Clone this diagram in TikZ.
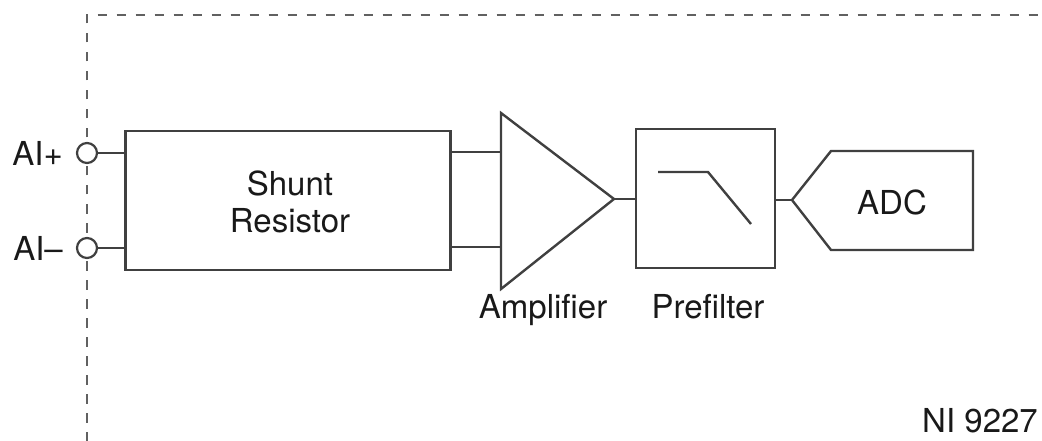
\documentclass[tikz,border=0pt]{standalone}
\usepackage{fontspec}
\setmainfont{TeX Gyre Heros}
\begin{document}
\begin{tikzpicture}[x=1pt,y=-1pt,
  line/.style={draw=black!75,line width=2.4pt},
  frame/.style={draw=black!62,line width=2pt,dash pattern=on 9.5pt off 9.5pt},
  lbl/.style={text=black!90,font=\fontsize{33}{38}\selectfont,inner sep=0pt},
  term/.style={circle,draw=black!75,line width=2.2pt,fill=white,minimum size=20pt,inner sep=0pt}]
\useasboundingbox (0,0) rectangle (1042,441);
% dashed enclosure
\coordinate (fb) at (87,441.5);
\coordinate (ft) at (87,15);
\coordinate (fr) at (1042,15);
\coordinate (fbr) at (1042,441.5);
\draw[frame] (fb) -- (ft) -- (fr);
\draw[frame,draw=black!40] (fb) -- (fbr);
% shunt resistor
\node[line,rectangle,minimum width=325pt,minimum height=139pt,inner sep=0pt] (shunt) at (288,200.5) {};
\node[lbl,align=center] (shunttxt) at (290,202) {Shunt\\[-1pt]Resistor};
% terminals
\node[term] (tp) at (87,153) {};
\node[term] (tm) at (87,248) {};
\node[lbl,anchor=east] (lp) at (63,153) {AI+};
\node[lbl,anchor=east] (lm) at (63,248) {AI–};
\coordinate (sp) at (125.5,153);
\coordinate (sm) at (125.5,248);
\draw[line] (tp) -- (sp);
\draw[line] (tm) -- (sm);
% amplifier
\coordinate (ampT) at (501,113);
\coordinate (ampB) at (501,289);
\coordinate (ampO) at (614,199);
\coordinate (ap) at (501,152);
\coordinate (am) at (501,247);
\coordinate (so1) at (450.5,152);
\coordinate (so2) at (450.5,247);
\draw[line,line join=miter] (ampT) -- (ampO) -- (ampB) -- cycle;
\draw[line] (so1) -- (ap);
\draw[line] (so2) -- (am);
\node[lbl,anchor=base] (amptxt) at (543,318) {Amplifier};
% prefilter
\node[line,rectangle,minimum width=139pt,minimum height=139pt,inner sep=0pt] (pre) at (705.5,198.5) {};
\draw[line] (ampO) -- (pre.west |- ampO);
\coordinate (c1) at (658,172);
\coordinate (c2) at (708,172);
\coordinate (c3) at (751,224);
\draw[line] (c1) -- (c2) -- (c3);
\node[lbl,anchor=base] (pretxt) at (708,318) {Prefilter};
% ADC
\coordinate (adcTip) at (792,200);
\coordinate (adcTL) at (831,151);
\coordinate (adcTR) at (973,151);
\coordinate (adcBR) at (973,250);
\coordinate (adcBL) at (831,250);
\draw[line,line join=miter] (adcTip) -- (adcTL) -- (adcTR) -- (adcBR) -- (adcBL) -- cycle;
\draw[line] (pre.east |- adcTip) -- (adcTip);
\node[lbl] (adctxt) at (892,202) {ADC};
% model
\node[lbl,anchor=east] (ni) at (1038,421) {NI 9227};
\end{tikzpicture}
\end{document}
